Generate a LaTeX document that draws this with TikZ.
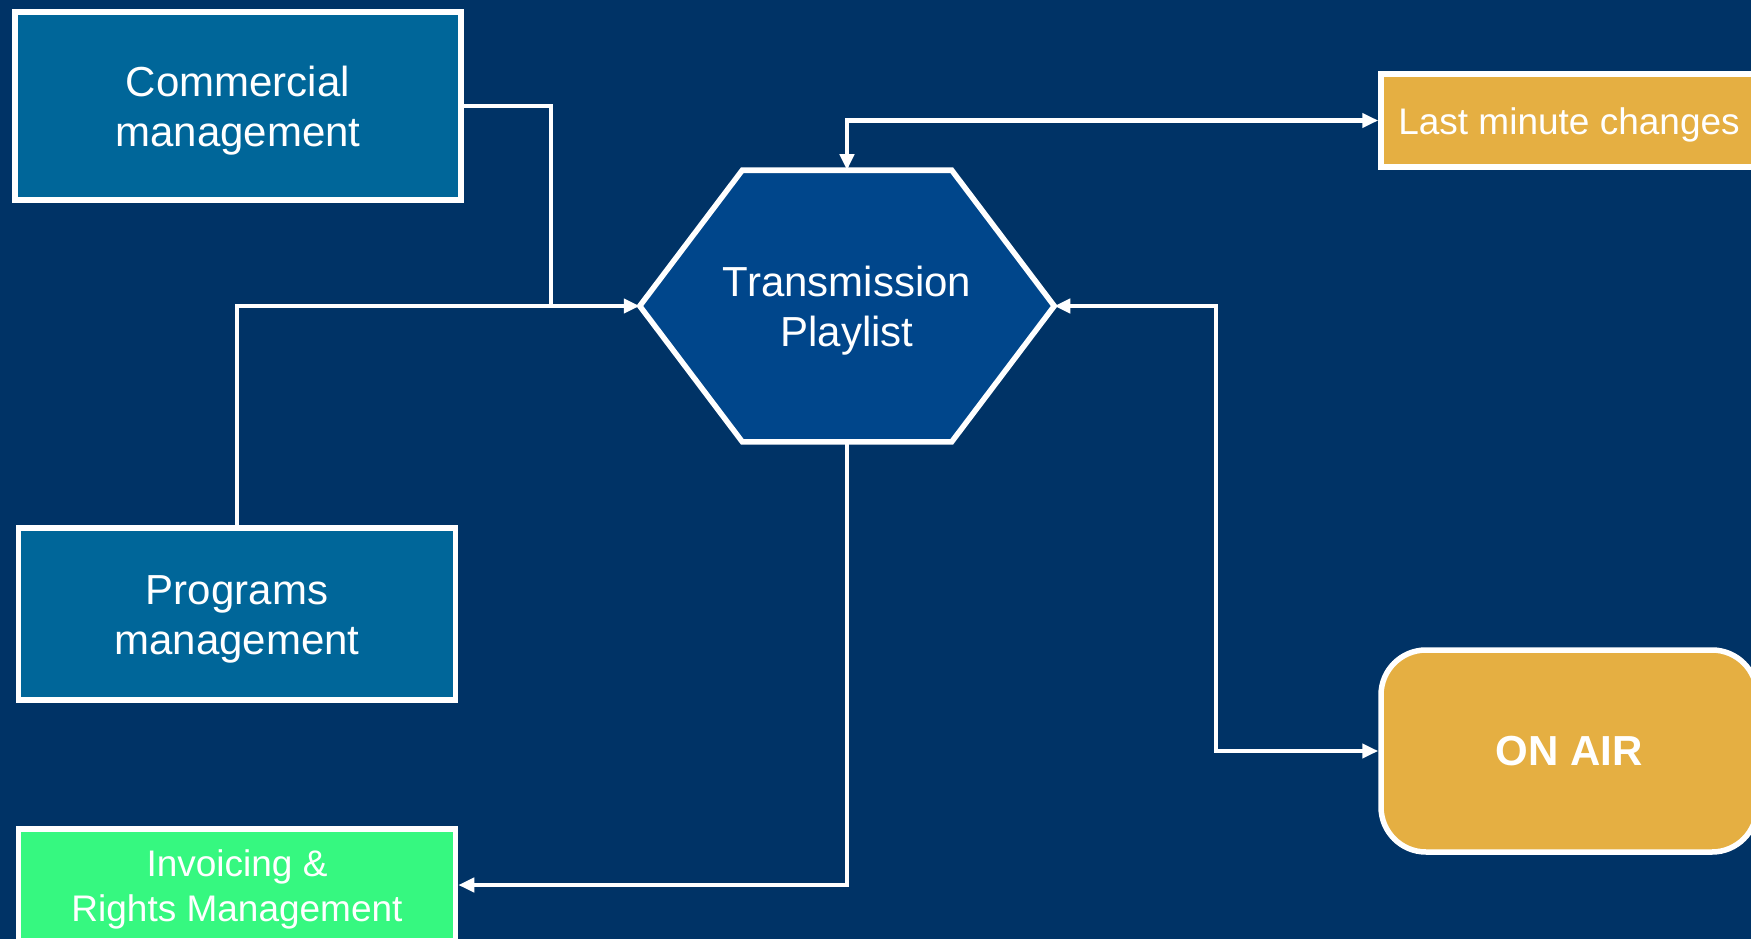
\documentclass[tikz,border=0pt]{standalone}
\usepackage{fontspec}
\setmainfont{Liberation Sans}
\usepackage{tikz}
\usetikzlibrary{arrows.meta,positioning,backgrounds}
\definecolor{tvnavy}  {HTML}{003366}
\definecolor{tvblue}  {HTML}{006699}
\definecolor{tvhex}   {HTML}{00468B}
\definecolor{tvgold}  {HTML}{E5AF42}
\definecolor{tvgreen} {HTML}{36F880}
% taller first line, so the text sits a little lower in its box
\newcommand{\tvstrut}{\rule{0pt}{0.95em}}
\tikzset{
  tvbox/.style={draw=white, line width=5.5pt, fill=tvblue, text=white,
                align=center, inner sep=0pt, font=\fontsize{42}{50}\selectfont},
  tvgoldbox/.style={tvbox, fill=tvgold},
  tvgreenbox/.style={tvbox, fill=tvgreen, font=\fontsize{37}{45}\selectfont},
  tvhexbox/.style={tvbox, draw=none, fill=none},
  tvhexline/.style={draw=white, line width=5.5pt, fill=tvhex, line join=miter},
  tvedge/.style={draw=white, line width=4.5pt},
  tvarrow/.style={tvedge, -{Triangle[length=16pt,width=14pt]}},
  tvboth/.style={tvedge, {Triangle[length=16pt,width=14pt]}-{Triangle[length=16pt,width=14pt]}},
}
\begin{document}
\begin{tikzpicture}[x=1pt,y=-1pt]
  \useasboundingbox (0,0) rectangle (1751,939);

  \node[tvbox, minimum width=446pt, minimum height=188pt] (comm) at (238,106)
    {\tvstrut Commercial\\ management};
  \node[tvbox, minimum width=437pt, minimum height=172pt] (prog) at (237,614)
    {\tvstrut Programs\\ management};
  \node[tvgreenbox, minimum width=437pt, minimum height=112pt] (inv) at (237,885)
    {\tvstrut Invoicing \&\\ Rights Management};
  \node[tvhexbox, minimum width=409pt, minimum height=266pt] (tp) at (847,306)
    {\tvstrut Transmission\\ Playlist};
  \node[tvgoldbox, minimum width=376pt, minimum height=93pt,
        font=\fontsize{37}{45}\selectfont] (last) at (1569,120.5)
    {\tvstrut Last minute changes};
  \node[tvgoldbox, minimum width=376pt, minimum height=202pt, rounded corners=45pt,
        font=\bfseries\fontsize{42}{50}\selectfont] (onair) at (1569,751)
    {ON AIR};

  % navy page and the hexagon behind the playlist text
  \begin{scope}[on background layer]
    \fill[tvnavy] (0,0) rectangle (1751,939);
    \draw[tvhexline] (tp.west) -- ([xshift=102.5pt]tp.north west)
      -- ([xshift=-102.5pt]tp.north east) -- (tp.east)
      -- ([xshift=-102.5pt]tp.south east) -- ([xshift=102.5pt]tp.south west) -- cycle;
  \end{scope}

  \coordinate (merge) at (551,306);
  \coordinate (rbend) at (1216,306);

  \draw[tvedge] (comm.east) -| (merge);
  \draw[tvarrow] (prog.north) |- (tp.west);
  \draw[tvboth] (tp.north) |- (last.west);
  \draw[tvboth] (tp.east) -- (rbend) |- (onair.west);
  \draw[tvarrow] (tp.south) |- (inv.east);
\end{tikzpicture}
\end{document}
